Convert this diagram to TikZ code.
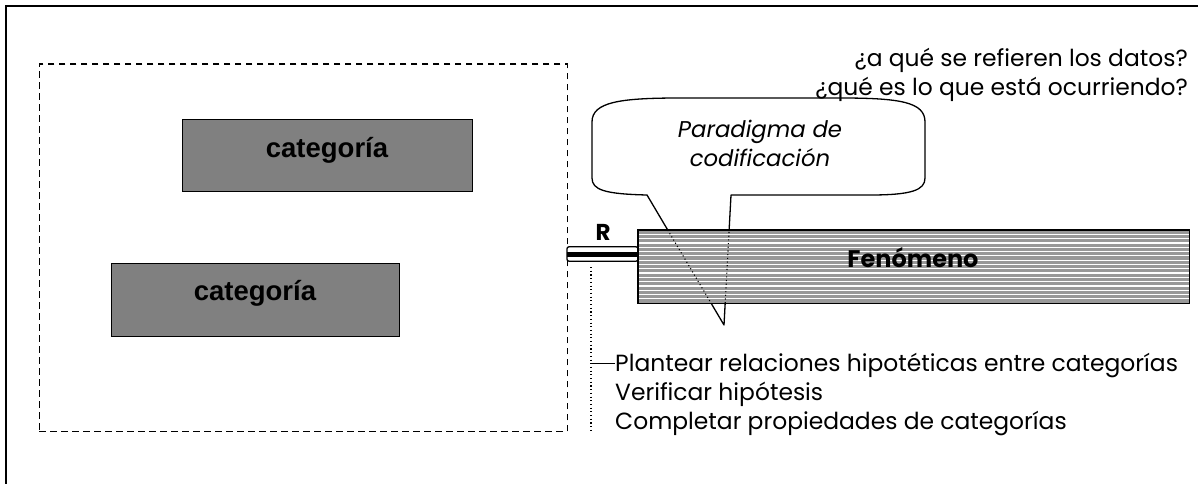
\documentclass[tikz,border=0pt]{standalone}
\usepackage{fontspec}
\setmainfont{Poppins}
\newfontfamily\arialf{Liberation Sans}
\begin{document}
\begin{tikzpicture}[x=1pt,y=-1pt,
  frameline/.style={line width=2pt},
  dashbox/.style={draw,line width=1.8pt,dash pattern=on 6.5pt off 4.5pt,minimum width=528pt,minimum height=367pt,anchor=north west,inner sep=0pt},
  catbox/.style={draw,line width=1pt,fill={rgb,255:red,128;green,128;blue,128},anchor=north west,inner sep=0pt},
  cattext/.style={anchor=base,font=\arialf\bfseries\fontsize{27.5}{32}\selectfont},
  geotext/.style={font=\fontsize{23.4}{28}\selectfont,inner sep=0pt},
  partext/.style={anchor=base,inner sep=0pt,font=\itshape\fontsize{22.8}{27}\selectfont},
  bubble/.style={draw,line width=1.3pt,fill=white,line join=round},
  dotline/.style={line width=1.1pt,dash pattern=on 1.1pt off 2.6pt},
]
\useasboundingbox (0,0) rectangle (1198,484);
% outer frame (only top and left visible)
\coordinate (fbl) at (6,484);
\coordinate (ftl) at (6,6);
\coordinate (ftr) at (1198,6);
\draw[frameline] (fbl) -- (ftl) -- (ftr);
% dashed box
\node[dashbox] (dbox) at (38.5,63.5) {};
% categories
\node[catbox,minimum width=290pt,minimum height=72pt] (cat1) at (182,119) {};
\node[cattext] (cat1t) at (327,157) {categoría};
\node[catbox,minimum width=288pt,minimum height=73pt] (cat2) at (111,263) {};
\node[cattext] (cat2t) at (255,300) {categoría};
% callout bubble
\coordinate (tip) at (724,325);
\coordinate (pl) at (647,195);
\coordinate (pr) at (731,195);
\draw[bubble] (pr) -- (tip) -- (pl)
  .. controls (605,194) and (592,190) .. (592,178) -- (592,122)
  .. controls (592,102) and (620,98) .. (680,98) -- (840,98)
  .. controls (900,98) and (925,102) .. (925,122) -- (925,178)
  .. controls (925,190) and (912,195) .. (870,195) -- cycle;
\node[partext] (par1) at (760,137) {Paradigma de};
\node[partext] (par2) at (760,166) {codificación};
% R connector
\coordinate (rl) at (567,254);
\coordinate (rr) at (638,254);
\draw[line width=1.3pt,fill=white,rounded corners=2pt] (567,246.8) rectangle (638,261.2);
\draw[line width=5pt] (rl) -- (rr);
\node[anchor=base,font=\bfseries\fontsize{23}{27}\selectfont,inner sep=0pt] (rlab) at (603,240) {R};
% phenomenon box
\node[draw=none,fill={rgb,255:red,153;green,153;blue,153},minimum width=551pt,minimum height=73pt,anchor=north west,inner sep=0pt] (fen) at (638,230) {};
\foreach \k in {1,...,16} {
  \draw[white,line width=1.2pt] (638,230+4.3*\k) -- (1189,230+4.3*\k);
}
\begin{scope}
  \clip (fen.north west) rectangle (fen.south east);
  \draw[dotline] (pl) -- (tip);
  \draw[dotline] (pr) -- (tip);
\end{scope}
\draw[line width=1.6pt] (fen.north west) rectangle (fen.south east);
\node[anchor=base,font=\bfseries\fontsize{24}{28}\selectfont,inner sep=0pt] (fent) at (913,267) {Fenómeno};
% questions
\node[geotext,anchor=base east] (q1) at (1188,67) {¿a qué se refieren los datos?};
\node[geotext,anchor=base east] (q2) at (1188,96) {¿qué es lo que está ocurriendo?};
% bracket with tasks
\coordinate (dtop) at (591,267);
\coordinate (dbot) at (591,430);
\coordinate (tick) at (591,363);
\draw[dotline] (dtop) -- (dbot);
\node[geotext,anchor=base west] (t1) at (615,371) {Plantear relaciones hipotéticas entre categorías};
\node[geotext,anchor=base west] (t2) at (615,400) {Verificar hipótesis};
\node[geotext,anchor=base west] (t3) at (615,429) {Completar propiedades de categorías};
\draw[line width=1pt] (tick) -- (tick -| t1.west);
\end{tikzpicture}
\end{document}
